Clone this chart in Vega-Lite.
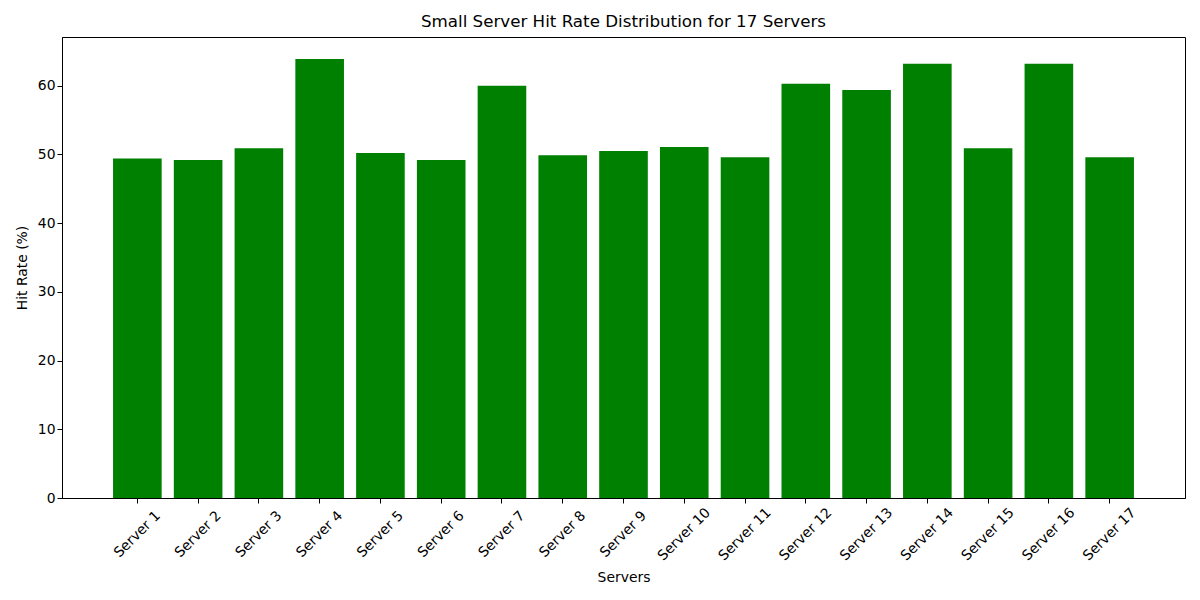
{
  "$schema": "https://vega.github.io/schema/vega-lite/v6.json",
  "autosize": {"type": "none"},
  "padding": {"left": 62, "top": 37, "right": 15, "bottom": 102},
  "width": 1123,
  "height": 461,
  "title": {"text": "Small Server Hit Rate Distribution for 17 Servers", "font": "DejaVu Sans", "fontSize": 16.7, "fontWeight": "normal", "color": "black", "offset": 6, "anchor": "middle"},
  "config": {
    "view": {"stroke": "black", "strokeWidth": 1},
    "axis": {"grid": false, "domainColor": "black", "tickColor": "black", "tickSize": 5, "labelFont": "DejaVu Sans", "labelFontSize": 13.9, "labelColor": "black", "titleFont": "DejaVu Sans", "titleFontSize": 13.9, "titleFontWeight": "normal", "titleColor": "black"}
  },
  "data": {"values": [
    {"server": "Server 1", "rate": 49.4},
    {"server": "Server 2", "rate": 49.2},
    {"server": "Server 3", "rate": 50.9},
    {"server": "Server 4", "rate": 63.9},
    {"server": "Server 5", "rate": 50.2},
    {"server": "Server 6", "rate": 49.2},
    {"server": "Server 7", "rate": 60.0},
    {"server": "Server 8", "rate": 49.9},
    {"server": "Server 9", "rate": 50.5},
    {"server": "Server 10", "rate": 51.1},
    {"server": "Server 11", "rate": 49.6},
    {"server": "Server 12", "rate": 60.3},
    {"server": "Server 13", "rate": 59.4},
    {"server": "Server 14", "rate": 63.2},
    {"server": "Server 15", "rate": 50.9},
    {"server": "Server 16", "rate": 63.2},
    {"server": "Server 17", "rate": 49.6}
  ]},
  "mark": {"type": "bar", "color": "#008000"},
  "encoding": {
    "x": {"field": "server", "type": "nominal", "sort": null, "title": "Servers",
      "scale": {"paddingInner": 0.2, "paddingOuter": 0.84},
      "axis": {"labelAngle": -45, "labelAlign": "center", "labelBaseline": "middle", "labelPadding": 31, "titlePadding": 8}},
    "y": {"field": "rate", "type": "quantitative", "title": "Hit Rate (%)",
      "scale": {"domain": [0, 67.1], "nice": false},
      "axis": {"values": [0, 10, 20, 30, 40, 50, 60], "titlePadding": 8}}
  }
}
